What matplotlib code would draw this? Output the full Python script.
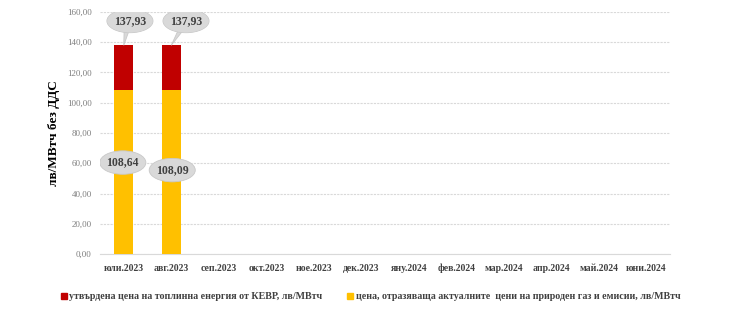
import matplotlib.pyplot as plt
import numpy as np
from matplotlib.patches import Ellipse, Polygon

months = ['юли.2023', 'авг.2023', 'сеп.2023', 'окт.2023', 'ное.2023', 'дек.2023',
          'яну.2024', 'фев.2024', 'мар.2024', 'апр.2024', 'май.2024', 'юни.2024']
gas_price = [108.64, 108.09]
total_price = [137.93, 137.93]
kevr_part = [t - g for t, g in zip(total_price, gas_price)]

RED = '#c00000'
YELLOW = '#ffc000'
BUBBLE_FC = '#d9d9d9'
BUBBLE_EC = '#c8c8c8'

plt.rcParams['font.family'] = ['Liberation Serif', 'DejaVu Serif']

fig = plt.figure(figsize=(7.3, 3.13), dpi=100)
ax = fig.add_axes([0.137, 0.188, 0.781, 0.774])

x = np.arange(len(months))
n = len(gas_price)
ax.bar(x[:n], gas_price, width=0.4, color=YELLOW, zorder=3)
ax.bar(x[:n], kevr_part, bottom=gas_price, width=0.4, color=RED, zorder=3)

ax.set_xlim(-0.5, len(months) - 0.5)
ax.set_ylim(0, 160)
yt = np.arange(0, 161, 20)
ax.set_yticks(yt)
ax.set_yticklabels([f'{v:.2f}'.replace('.', ',') for v in yt], fontsize=6.5, color='#7f7f7f')
ax.set_xticks(x)
ax.set_xticklabels(months, fontsize=7, fontweight='bold', color='#404040')
for lbl in ax.get_xticklabels():
    lbl.set_verticalalignment('baseline')
ax.tick_params(axis='y', length=0, pad=6)
ax.tick_params(axis='x', length=0, pad=12)
ax.grid(axis='y', color='#d9d9d9', linestyle=(0, (2, 1)), linewidth=0.8, zorder=0)
for s in ['top', 'right', 'left']:
    ax.spines[s].set_visible(False)
ax.spines['bottom'].set_color('#d9d9d9')
ax.set_ylabel('лв/МВтч без ДДС', fontsize=9.5, fontweight='bold', labelpad=5)


def bubble(cx, cy, text, target=None):
    ax.add_patch(Ellipse((cx, cy), 0.97, 15.5, fc=BUBBLE_FC, ec=BUBBLE_EC, lw=0.6, zorder=5))
    if target is not None:
        ax.add_patch(Polygon([(cx - 0.12, cy - 3), (cx + 0.02, cy - 3), target],
                             closed=True, fc=BUBBLE_FC, ec=BUBBLE_EC, lw=0.6, zorder=4))
        ax.add_patch(Ellipse((cx, cy), 0.95, 15.0, fc=BUBBLE_FC, ec='none', zorder=5.5))
    ax.text(cx, cy, text, ha='center', va='center', fontsize=8.5, fontweight='bold',
            color='#404040', zorder=6)


fmt = lambda v: f'{v:.2f}'.replace('.', ',')
top_centers = [(0.13, 154), (1.31, 154)]
for i in range(n):
    bubble(*top_centers[i], fmt(total_price[i]), target=(x[i], total_price[i]))
low_centers = [(-0.02, 60.5), (1.02, 55.5)]
for i in range(n):
    bubble(*low_centers[i], fmt(gas_price[i]))

# legend
fig.patches.append(plt.Rectangle((0.084, 0.046), 0.008, 0.018, transform=fig.transFigure,
                                 color=RED, figure=fig))
fig.text(0.095, 0.054, 'утвърдена цена на топлинна енергия от КЕВР, лв/МВтч',
         fontsize=7.2, fontweight='bold', color='#404040', va='center')
fig.patches.append(plt.Rectangle((0.476, 0.046), 0.008, 0.018, transform=fig.transFigure,
                                 color=YELLOW, figure=fig))
fig.text(0.487, 0.054, 'цена, отразяваща актуалните  цени на природен газ и емисии, лв/МВтч',
         fontsize=7.2, fontweight='bold', color='#404040', va='center')

fig.savefig('out.png', dpi=100)
